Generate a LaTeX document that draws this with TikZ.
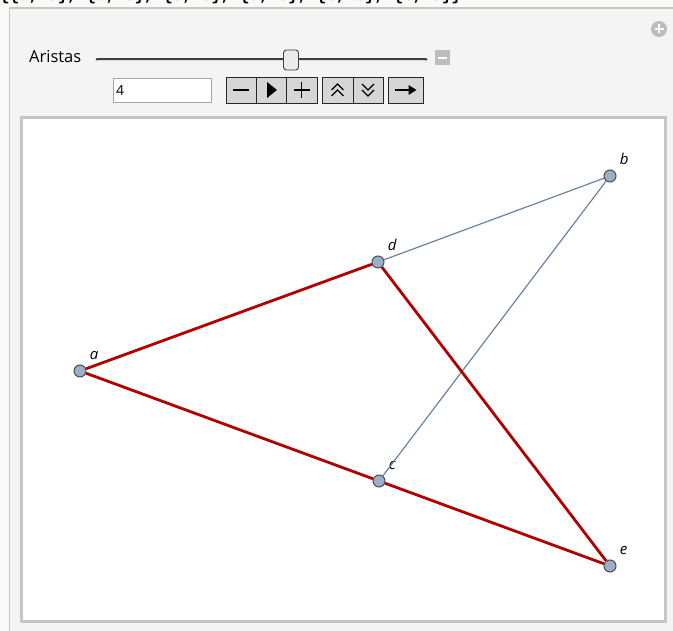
\documentclass[tikz,border=0pt]{standalone}
\usepackage{fontspec}
\setmainfont{Open Sans}
\newfontfamily\outfont{Liberation Mono}
\usetikzlibrary{positioning}

\definecolor{panelbg}{HTML}{F4F4F4}
\definecolor{outbg}{HTML}{F9F9F5}
\definecolor{rimgray}{HTML}{C6C6C6}
\definecolor{icongray}{HTML}{BDBDBD}
\definecolor{btngray}{HTML}{D6D6D6}
\definecolor{vertfill}{HTML}{9DAEC8}
\definecolor{edgered}{HTML}{B00000}
\definecolor{edgeblue}{HTML}{6A83A6}

\tikzset{
  btn/.style={draw=black!85, fill=btngray, minimum height=26pt, inner sep=0pt, line width=0.8pt},
  glyph/.style={line width=1.4pt, black},
  vert/.style={circle, draw=black!70, fill=vertfill, minimum size=12pt, inner sep=0pt, line width=1pt},
  vlabel/.style={inner sep=0pt, font=\fontsize{15}{15}\selectfont\itshape},
  kept/.style={edgered, line width=2.8pt},
  dropped/.style={edgeblue, line width=1.2pt}
}

\begin{document}
\begin{tikzpicture}[x=1pt,y=-1pt]
	\useasboundingbox (0,0) rectangle (673,631);
	\fill[panelbg] (0,0) rectangle (673,631);
	% output line above the panel, cut off
	\fill[outbg] (0,0) rectangle (673,8);
	\fill[outbg] (0,0) rectangle (9,631);
	\begin{scope}
		\clip (0,0) rectangle (673,7.5);
		\node[anchor=base west, inner sep=0pt, font=\outfont\bfseries\fontsize{16}{16}\selectfont] (out) at (0,1)
			{\{\{a, d\}, \{a, c\}, \{c, e\}, \{d, e\}, \{b, c\}, \{b, d\}\}};
	\end{scope}
	\draw[rimgray, line width=1.5pt] (9.5,631) -- (9.5,8) -- (673,8);

	% controls
	\node[circle, fill=icongray, minimum size=16pt, inner sep=0pt] (more) at (659,29) {};
	\draw[white, line width=2.6pt] ([xshift=-4.5pt]more.center) -- ([xshift=4.5pt]more.center)
		([yshift=-4.5pt]more.center) -- ([yshift=4.5pt]more.center);
	\node[anchor=west, inner sep=0pt, font=\fontsize{16.5}{16.5}\selectfont] (name) at (29,57) {Aristas};
	\coordinate (s0) at (97,60);
	\coordinate (s1) at (426,60);
	\draw[black!75, line width=3pt, line cap=round] (s0) -- (s1);
	\draw[black!15, line width=0.8pt] (s0) -- (s1);
	\node[draw=black!75, fill=black!8, rounded corners=3pt, minimum width=15pt, minimum height=20pt,
		inner sep=0pt, line width=0.9pt] (knob) at (291,60) {};
	\node[fill=icongray, minimum size=15pt, inner sep=0pt] (less) at (442,58) {};
	\draw[white, line width=2.4pt] ([xshift=-4.5pt]less.center) -- ([xshift=4.5pt]less.center);
	\node[draw=black!35, fill=white, minimum width=98pt, minimum height=24pt, inner sep=0pt] (val) at (162,90) {};
	\node[anchor=west, inner sep=0pt, font=\fontsize{14}{14}\selectfont] (valtxt) at ([xshift=3pt]val.west) {4};

	% buttons
	\node[btn, minimum width=30pt] (bdec) at (241,90) {};
	\node[btn, minimum width=30pt] (bplay) at (271,90) {};
	\node[btn, minimum width=31pt] (binc) at (301.5,90) {};
	\node[btn, minimum width=31pt] (bfast) at (337.5,90) {};
	\node[btn, minimum width=30pt] (bslow) at (368,90) {};
	\node[btn, minimum width=35pt] (bdir) at (405.5,90) {};
	\draw[glyph] ([xshift=-8pt]bdec.center) -- ([xshift=8pt]bdec.center);
	\fill ([xshift=-4pt,yshift=8pt]bplay.center) -- ([xshift=6pt]bplay.center)
		-- ([xshift=-4pt,yshift=-8pt]bplay.center) -- cycle;
	\draw[glyph] ([xshift=-8pt]binc.center) -- ([xshift=8pt]binc.center)
		([yshift=-8pt]binc.center) -- ([yshift=8pt]binc.center);
	\foreach \h in {-2,4} {
		\draw[line width=1.1pt] ([xshift=-6pt,yshift=\h pt-4pt]bfast.center) -- ([yshift=\h pt+2pt]bfast.center)
			-- ([xshift=6pt,yshift=\h pt-4pt]bfast.center);
		\draw[line width=1.1pt] ([xshift=-6pt,yshift=-\h pt+4pt]bslow.center) -- ([yshift=-\h pt-2pt]bslow.center)
			-- ([xshift=6pt,yshift=-\h pt+4pt]bslow.center);
	}
	\draw[glyph] ([xshift=-11pt]bdir.center) -- ([xshift=5pt]bdir.center);
	\fill ([xshift=3pt,yshift=5pt]bdir.center) -- ([xshift=11pt]bdir.center)
		-- ([xshift=3pt,yshift=-5pt]bdir.center) -- cycle;

	% graph frame
	\draw[rimgray, line width=3pt, fill=white] (21.5,117.5) rectangle (665.5,621.5);

	% vertices
	\node[vert] (a) at (80,371) {};
	\node[vert] (b) at (610,176) {};
	\node[vert] (c) at (379,481) {};
	\node[vert] (d) at (378,262) {};
	\node[vert] (e) at (610,566) {};
	\foreach \v in {a,b,c,d,e} {
		\node[vlabel, above right=7pt and 5pt of \v] (lab\v) {\v};
	}

	% edges
	\draw[dropped] (d) -- (b);
	\draw[dropped] (b) -- (c);
	\draw[kept] (a) -- (d);
	\draw[kept] (a) -- (c);
	\draw[kept] (c) -- (e);
	\draw[kept] (d) -- (e);
\end{tikzpicture}
\end{document}
